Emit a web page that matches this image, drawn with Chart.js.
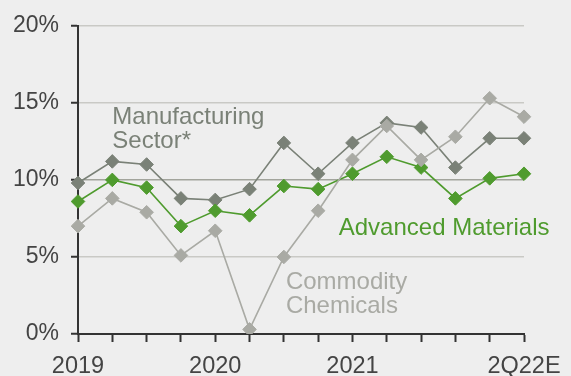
<!DOCTYPE html>
<html>
<head>
<meta charset="utf-8">
<script src="https://cdn.jsdelivr.net/npm/chart.js@4/dist/chart.umd.min.js"></script>
<style>
  html, body { margin: 0; padding: 0; background: #eeeeee; }
  #wrap { width: 571px; height: 376px; position: relative; }
</style>
</head>
<body>
<div id="wrap"><canvas id="c" width="571" height="376"></canvas></div>
<script>
// Quarterly margins, 1Q19 through 2Q22E
const quarters = ['1Q19','2Q19','3Q19','4Q19','1Q20','2Q20','3Q20','4Q20','1Q21','2Q21','3Q21','4Q21','1Q22','2Q22E'];
const axisLabels = { 0: '2019', 4: '2020', 8: '2021', 13: '2Q22E' };

const manufacturing = [9.8, 11.2, 11.0, 8.8, 8.7, 9.4, 12.4, 10.4, 12.4, 13.7, 13.4, 10.8, 12.7, 12.7];
const advancedMaterials = [8.6, 10.0, 9.5, 7.0, 8.0, 7.7, 9.6, 9.4, 10.4, 11.5, 10.8, 8.8, 10.1, 10.4];
const commodityChemicals = [7.0, 8.8, 7.9, 5.1, 6.7, 0.3, 5.0, 8.0, 11.3, 13.5, 11.3, 12.8, 15.3, 14.1];

const yTicks = [0, 5, 10, 15, 20];

const COL_MFG = '#7a8177';
const COL_ADV = '#4f9b2e';
const COL_COM = '#a9aaa4';
const FONT = '"Liberation Sans", Arial, sans-serif';

// Series captions placed in data space
const captions = [
  { lines: ['Manufacturing', 'Sector*'], x: 1, y: 13.6, color: COL_MFG },
  { lines: ['Advanced Materials'], x: 7.6, y: 6.4, color: COL_ADV },
  { lines: ['Commodity', 'Chemicals'], x: 6.06, y: 2.9, color: COL_COM }
];

const captionPlugin = {
  id: 'captions',
  afterDatasetsDraw(chart) {
    const { ctx, scales } = chart;
    ctx.save();
    ctx.font = '24px ' + FONT;
    ctx.textAlign = 'left';
    ctx.textBaseline = 'alphabetic';
    captions.forEach(c => {
      const px = scales.x.getPixelForValue(c.x);
      const py = scales.y.getPixelForValue(c.y);
      ctx.fillStyle = c.color;
      c.lines.forEach((t, i) => ctx.fillText(t, px, py + i * 24));
    });
    ctx.restore();
  }
};

function series(data, color) {
  return {
    data,
    borderColor: color,
    backgroundColor: color,
    borderWidth: 1.6,
    pointStyle: 'rectRot',
    pointRadius: 6.8,
    pointBorderWidth: 1,
    pointBorderColor: color,
    pointBackgroundColor: color,
    tension: 0
  };
}

new Chart(document.getElementById('c'), {
  type: 'line',
  data: {
    labels: quarters,
    datasets: [
      series(commodityChemicals, COL_COM),
      series(advancedMaterials, COL_ADV),
      series(manufacturing, COL_MFG)
    ]
  },
  options: {
    responsive: false,
    animation: false,
    layout: { padding: { top: 22, right: 47, left: 0, bottom: 0 } },
    plugins: { legend: { display: false }, tooltip: { enabled: false } },
    scales: {
      x: {
        type: 'category',
        offset: false,
        border: { display: true, color: '#333333', width: 2 },
        grid: { drawOnChartArea: false, drawTicks: true, tickLength: 8, tickColor: '#333333', tickWidth: 2 },
        ticks: {
          autoSkip: false, maxRotation: 0, padding: 10,
          color: '#444444', font: { family: FONT, size: 23.5 },
          callback: (v, i) => axisLabels[i] || ''
        },
        afterFit: s => { s.height = 42; }
      },
      y: {
        min: 0, max: 20,
        afterBuildTicks: s => { s.ticks = yTicks.map(v => ({ value: v })); },
        border: { display: true, color: '#333333', width: 2 },
        grid: {
          drawTicks: true, tickLength: 7,
          color: ctx => ctx.tick && ctx.tick.value === 10 ? '#a2a49c' : (ctx.tick && ctx.tick.value === 0 ? 'rgba(0,0,0,0)' : '#c9c9c5'),
          tickColor: '#333333', lineWidth: 1.5, tickWidth: 2
        },
        ticks: {
          padding: 12, color: '#444444', font: { family: FONT, size: 23 },
          callback: v => v + '%'
        },
        afterFit: s => { s.width = 78; }
      }
    }
  },
  plugins: [captionPlugin]
});
</script>
</body>
</html>
